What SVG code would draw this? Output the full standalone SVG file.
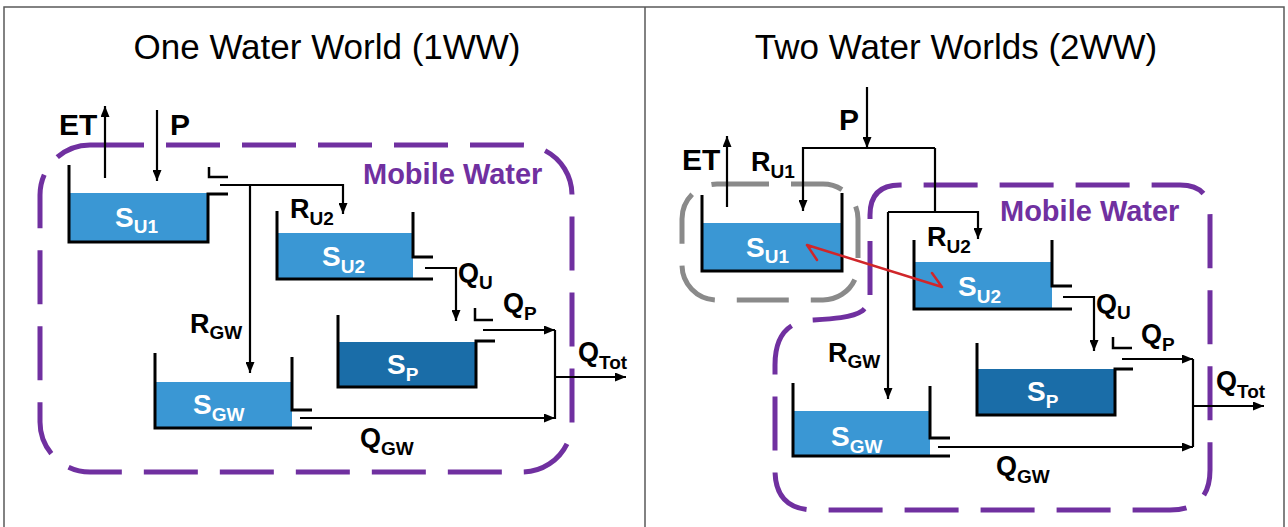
<svg xmlns="http://www.w3.org/2000/svg" width="1288" height="527" viewBox="0 0 1288 527">
<style>
  .frame{fill:none;stroke:#5a5a5a;stroke-width:1.5}
  .title{font-family:"Liberation Sans",Arial,sans-serif;font-size:35px;fill:#000}
  .lbl{font-family:"Liberation Sans",Arial,sans-serif;font-weight:bold;font-size:27px;fill:#000}
  .big{font-size:30px}
  .sub{font-size:19px}
  .tl{font-family:"Liberation Sans",Arial,sans-serif;font-weight:bold;font-size:28px;fill:#fff}
  .mw{font-family:"Liberation Sans",Arial,sans-serif;font-weight:bold;font-size:29px;fill:#7030A0}
  .wall{fill:none;stroke:#000;stroke-width:3}
  .thin{fill:none;stroke:#000;stroke-width:2.5}
  .con{fill:none;stroke:#000;stroke-width:2.2}
  .arr{marker-end:url(#ah)}
  .w1{fill:#3A97D4}
  .w2{fill:#1A6DA8}
  .mob{fill:none;stroke:#7030A0;stroke-width:5;stroke-dasharray:54 22}
  .imm{fill:none;stroke:#8A8A8A;stroke-width:5;stroke-dasharray:52 22}
  .red{fill:none;stroke:#D0262A;stroke-width:2.5;stroke-linecap:round}
</style>
<defs>
  <marker id="ah" viewBox="0 0 11 9" refX="11" refY="4.5" markerWidth="11" markerHeight="9" markerUnits="userSpaceOnUse" orient="auto">
    <path d="M0,0 L11,4.5 L0,9 z" fill="#000"/>
  </marker>
</defs>
<rect width="1288" height="527" fill="#fff"/>
<path class="frame" d="M4,527 V7 H1284 V527 M645,7 V527"/>

<!-- ========== Left panel: 1WW ========== -->
<text class="title" x="327" y="59" text-anchor="middle">One Water World (1WW)</text>

<g id="mobile-1ww">
  <rect class="mob" x="40" y="145" width="532" height="327" rx="50"/>
  <text class="mw" x="363" y="184">Mobile Water</text>
</g>

<g id="su1-1ww">
  <rect class="w1" x="69" y="193" width="139" height="49"/>
  <path class="wall" d="M69,165 V242 H208 V194 H228"/>
  <path class="thin" d="M209,167 V177 H228"/>
  <text class="tl" x="115" y="227">S<tspan class="sub" dy="6">U1</tspan></text>
</g>

<g id="su2-1ww">
  <rect class="w1" x="277" y="233" width="136" height="47"/>
  <path class="wall" d="M277,211 V279 H433 M413,212 V257 H433"/>
  <text class="tl" x="322" y="266">S<tspan class="sub" dy="7">U2</tspan></text>
</g>

<g id="sp-1ww">
  <rect class="w2" x="338" y="342" width="138" height="45"/>
  <path class="wall" d="M338,315 V387 H476 V341 H495"/>
  <path class="thin" d="M475,308 V320 H493"/>
  <text class="tl" x="387" y="374">S<tspan class="sub" dy="7">P</tspan></text>
</g>

<g id="sgw-1ww">
  <rect class="w1" x="155" y="382" width="137" height="46"/>
  <path class="wall" d="M155,353 V428 H312 M292,357 V410 H312"/>
  <text class="tl" x="193" y="414">S<tspan class="sub" dy="7">GW</tspan></text>
</g>

<g id="labels-1ww">
  <text class="lbl big" x="59" y="135">ET</text>
  <text class="lbl big" x="170" y="135">P</text>
  <text class="lbl" x="290" y="218">R<tspan class="sub" dy="7">U2</tspan></text>
  <text class="lbl" x="190" y="333">R<tspan class="sub" dy="6">GW</tspan></text>
  <text class="lbl" x="458" y="282">Q<tspan class="sub" dy="7">U</tspan></text>
  <text class="lbl" x="503" y="312">Q<tspan class="sub" dy="8">P</tspan></text>
  <text class="lbl" x="578" y="361">Q<tspan class="sub" dy="8">Tot</tspan></text>
  <text class="lbl" x="360" y="447">Q<tspan class="sub" dy="8">GW</tspan></text>
</g>

<g id="connectors-1ww">
  <path class="con arr" d="M105,178 V106"/>
  <path class="con arr" d="M157,110 V181"/>
  <path class="con arr" d="M220,185 H343 V214"/>
  <path class="con arr" d="M250,185 V373"/>
  <path class="con arr" d="M425,268 H456 V321"/>
  <path class="con arr" d="M483,330 H555"/>
  <path class="con arr" d="M300,418 H555"/>
  <path class="con" d="M555,330 V419"/>
  <path class="con arr" d="M555,377 H626"/>
</g>

<!-- ========== Right panel: 2WW ========== -->
<text class="title" x="956" y="59" text-anchor="middle">Two Water Worlds (2WW)</text>

<g id="mobile-2ww">
  <path class="mob" d="M870,295 V215 Q870,185 900,185 H1180 Q1210,185 1210,215 V470 Q1210,510 1170,510 H815 Q775,510 775,470 V365 Q775,322 812,320 C830,319 852,318 862,311 C868,306 870,300 870,295 Z"/>
  <text class="mw" x="1000" y="221">Mobile Water</text>
</g>

<g id="immobile-2ww">
  <rect class="imm" x="682" y="184" width="176" height="116" rx="35"/>
</g>

<g id="su1-2ww">
  <rect class="w1" x="702" y="223" width="140" height="48"/>
  <path class="wall" d="M702,195 V271 H842 V193"/>
  <text class="tl" x="746" y="257">S<tspan class="sub" dy="6">U1</tspan></text>
</g>

<g id="su2-2ww">
  <rect class="w1" x="914" y="262" width="138" height="47"/>
  <path class="wall" d="M914,240 V309 H1072 M1052,240 V286 H1072"/>
  <text class="tl" x="958" y="296">S<tspan class="sub" dy="7">U2</tspan></text>
</g>

<g id="sp-2ww">
  <rect class="w2" x="977" y="369" width="138" height="46"/>
  <path class="wall" d="M977,343 V415 H1115 V369 H1133"/>
  <path class="thin" d="M1113,337 V348 H1132"/>
  <text class="tl" x="1027" y="401">S<tspan class="sub" dy="7">P</tspan></text>
</g>

<g id="sgw-2ww">
  <rect class="w1" x="793" y="411" width="137" height="45"/>
  <path class="wall" d="M793,383 V456 H950 M930,386 V438 H950"/>
  <text class="tl" x="831" y="446">S<tspan class="sub" dy="7">GW</tspan></text>
</g>

<g id="labels-2ww">
  <text class="lbl big" x="682" y="170">ET</text>
  <text class="lbl big" x="839" y="130">P</text>
  <text class="lbl" x="751" y="171">R<tspan class="sub" dy="7">U1</tspan></text>
  <text class="lbl" x="927" y="246">R<tspan class="sub" dy="7">U2</tspan></text>
  <text class="lbl" x="828" y="362">R<tspan class="sub" dy="6">GW</tspan></text>
  <text class="lbl" x="1096" y="313">Q<tspan class="sub" dy="6">U</tspan></text>
  <text class="lbl" x="1141" y="343">Q<tspan class="sub" dy="8">P</tspan></text>
  <text class="lbl" x="1216" y="390">Q<tspan class="sub" dy="8">Tot</tspan></text>
  <text class="lbl" x="996" y="475">Q<tspan class="sub" dy="8">GW</tspan></text>
</g>

<g id="connectors-2ww">
  <path class="con arr" d="M727,207 V136"/>
  <path class="con arr" d="M867,87 V148"/>
  <path class="con arr" d="M935,148 H803 V211"/>
  <path class="con" d="M935,148 V212"/>
  <path class="con arr" d="M888,212 H978 V239"/>
  <path class="con arr" d="M888,212 V399"/>
  <path class="con arr" d="M1063,297 H1094 V351"/>
  <path class="con arr" d="M1122,359 H1193"/>
  <path class="con arr" d="M938,447 H1193"/>
  <path class="con" d="M1193,359 V447"/>
  <path class="con arr" d="M1193,406 H1264"/>
  <path class="red" d="M807,245 L942,287 M807,245 L817,260 M932,273 L942,287"/>
</g>
</svg>
